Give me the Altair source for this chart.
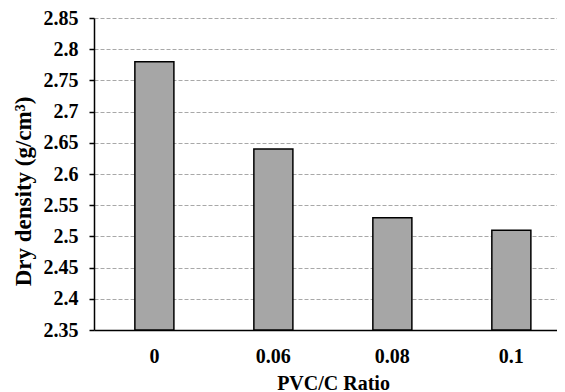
import altair as alt
import pandas as pd

ratios = ["0", "0.06", "0.08", "0.1"]
density = [2.78, 2.64, 2.53, 2.51]
y_ticks = [2.35, 2.4, 2.45, 2.5, 2.55, 2.6, 2.65, 2.7, 2.75, 2.8, 2.85]

df = pd.DataFrame({"ratio": ratios, "density": density})

FONT = "'Liberation Serif', 'Times New Roman', 'DejaVu Serif', serif"

chart = alt.Chart(df).mark_bar(
    color="#a6a6a6", stroke="black", strokeWidth=1.5
).encode(
    x=alt.X(
        "ratio:N", sort=ratios,
        scale=alt.Scale(paddingInner=0.672, paddingOuter=0.2815, align=0.61),
        axis=alt.Axis(
            title="PVC/C Ratio", labelAngle=0, ticks=False, grid=False,
            domainColor="black", domainWidth=1.5,
            labelPadding=16, titlePadding=7, titleX=239,
            labelFont=FONT, titleFont=FONT,
        ),
    ),
    y=alt.Y(
        "density:Q",
        scale=alt.Scale(domain=[2.35, 2.85], zero=False, nice=False),
        axis=alt.Axis(
            title="Dry density (g/cm³)", values=y_ticks, format=".2~f",
            tickSize=5, tickColor="black", tickWidth=1.5,
            domainColor="black", domainWidth=1.5,
            labelPadding=11, titlePadding=8, titleFontSize=23, titleY=173,
            gridDash=[4, 2], gridColor="#a8a8a8", gridWidth=1,
            labelFont=FONT, titleFont=FONT,
        ),
    ),
    y2=alt.datum(2.35),
).properties(
    width=463, height=312,
    autosize=alt.AutoSizeParams(type="none"),
    padding={"left": 86, "top": 10, "right": 0, "bottom": 62},
).configure_view(stroke=None).configure_axis(
    labelFontSize=20, titleFontSize=20,
    labelFontWeight="bold", titleFontWeight="bold",
    labelColor="black", titleColor="black",
)

chart.save("out.html", embed_options={"renderer": "svg", "actions": False})
